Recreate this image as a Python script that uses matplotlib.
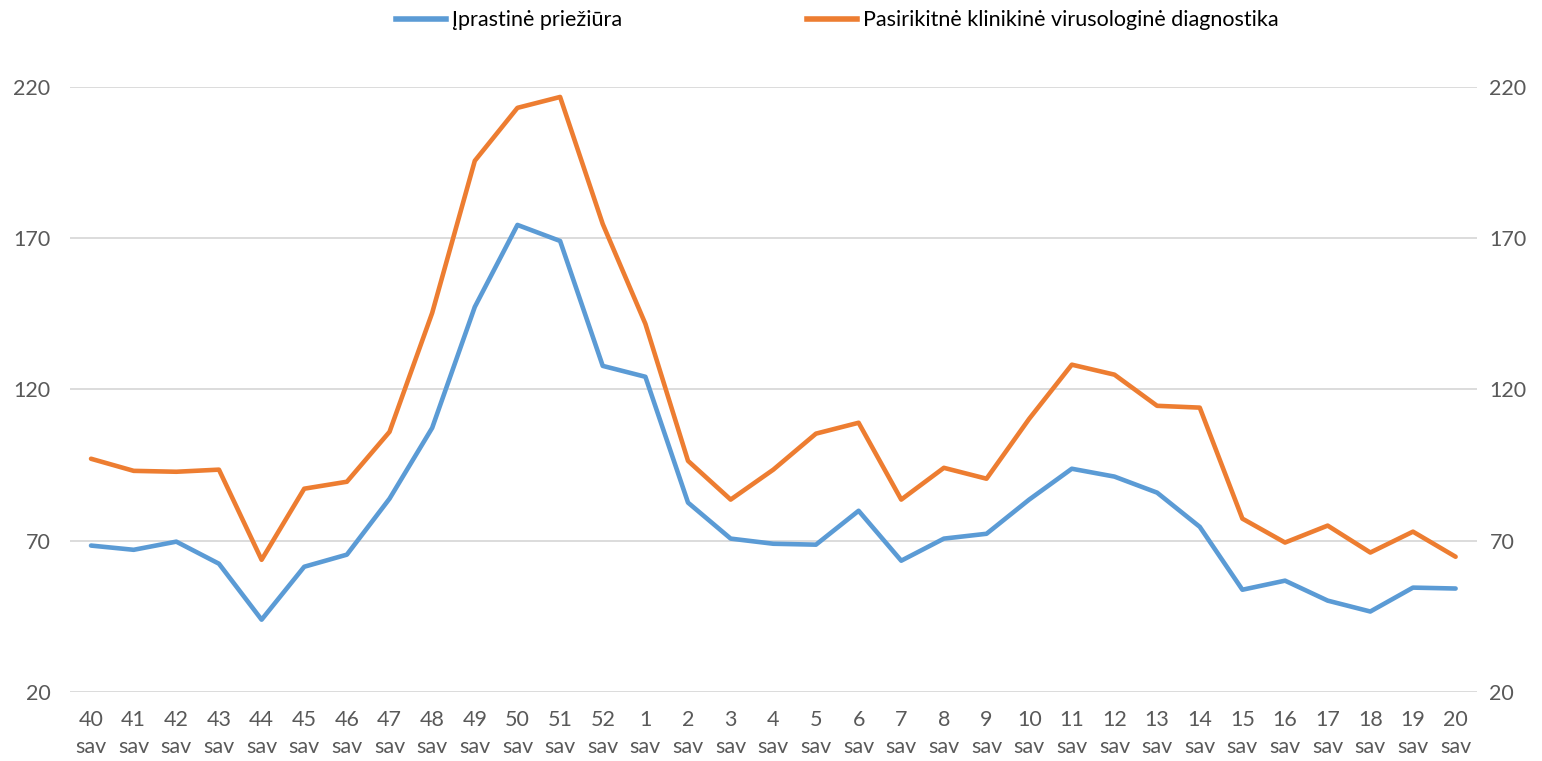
import matplotlib.pyplot as plt
from matplotlib.lines import Line2D

plt.rcParams['font.family'] = ['Lato', 'DejaVu Sans']

weeks = [40, 41, 42, 43, 44, 45, 46, 47, 48, 49, 50, 51, 52,
         1, 2, 3, 4, 5, 6, 7, 8, 9, 10, 11, 12, 13, 14, 15, 16, 17, 18, 19, 20]
labels = [f"{w}\nsav" for w in weeks]

iprastine = [68.4, 67.0, 69.7, 62.4, 43.9, 61.4, 65.4, 83.9, 107.3, 147.3, 174.4, 169.1, 127.8,
             124.2, 82.6, 70.7, 69.0, 68.7, 79.9, 63.4, 70.7, 72.3, 83.6, 93.8, 91.2, 85.9, 74.6,
             53.8, 56.8, 50.2, 46.6, 54.5, 54.2]
pasirikitne = [97.1, 93.1, 92.8, 93.5, 63.7, 87.2, 89.5, 106.0, 145.3, 195.6, 213.1, 216.7, 174.7,
               141.7, 96.4, 83.6, 93.5, 105.4, 109.0, 83.6, 94.1, 90.5, 110.3, 128.2, 124.9, 114.6, 114.0,
               77.3, 69.4, 75.0, 66.1, 73.0, 64.7]

yticks = [20, 70, 120, 170, 220]

blue = "#5B9BD5"
orange = "#ED7D31"
grey = "#595959"
fs = 15.5

fig = plt.figure(figsize=(15.42, 7.61), dpi=100)
ax = fig.add_axes([0.0452, 0.0907, 0.9126, 0.795])

x = range(len(weeks))
ax.plot(x, iprastine, color=blue, lw=3.3, solid_joinstyle="round", solid_capstyle="round")
ax.plot(x, pasirikitne, color=orange, lw=3.3, solid_joinstyle="round", solid_capstyle="round")

ax.set_xlim(-0.5, len(weeks) - 0.5)
ax.set_ylim(20, 220)
ax.set_yticks(yticks)
ax.set_xticks(list(x))
ax.set_xticklabels(labels, fontsize=fs, color=grey, linespacing=1.45)
ax.tick_params(axis="y", labelsize=fs, labelcolor=grey, length=0, pad=14)
ax.tick_params(axis="x", length=0, pad=13)
ax.grid(axis="y", color="#D9D9D9", lw=1.3)
ax.set_axisbelow(True)
for s in ax.spines.values():
    s.set_visible(False)

ax2 = ax.twinx()
ax2.set_ylim(20, 220)
ax2.set_yticks(yticks)
ax2.tick_params(axis="y", labelsize=fs, labelcolor=grey, length=0, pad=9)
for s in ax2.spines.values():
    s.set_visible(False)

handles = [Line2D([], [], color=blue, lw=4),
           Line2D([], [], color=orange, lw=4)]
fig.legend(handles, ["Įprastinė priežiūra", "Pasirikitnė klinikinė virusologinė diagnostika"],
           loc="upper center", bbox_to_anchor=(0.543, 1.012), ncol=2, frameon=False,
           fontsize=fs, handlelength=2.3, handletextpad=0.28, columnspacing=8.6,
           labelcolor="black")

fig.savefig("out.png", dpi=100)
